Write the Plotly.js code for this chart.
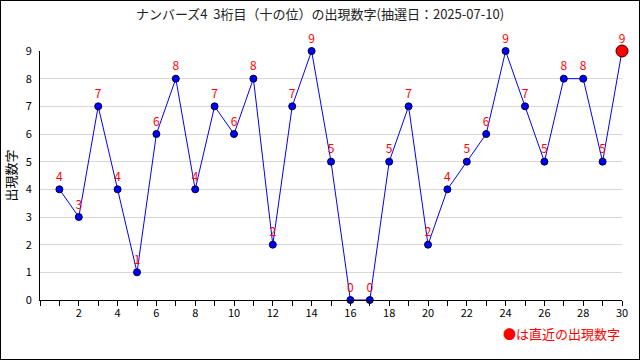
<!DOCTYPE html>
<html><head><meta charset="utf-8">
<script src="https://cdn.plot.ly/plotly-3.0.1.min.js"></script>
<style>html,body{margin:0;padding:0;background:#fff}#c{width:640px;height:360px;box-sizing:border-box;border:1px solid #000}</style>
</head><body><div id="c"></div>
<script>
const draws = [1,2,3,4,5,6,7,8,9,10,11,12,13,14,15,16,17,18,19,20,21,22,23,24,25,26,27,28,29,30];
const digits = [4,3,7,4,1,6,8,4,7,6,8,2,7,9,5,0,0,5,7,2,4,5,6,9,7,5,8,8,5,9];
const xTickVals = [2,4,6,8,10,12,14,16,18,20,22,24,26,28,30];
const titleText = 'ナンバーズ4\u00a0\u00a03桁目（十の位）の出現数字(抽選日：2025-07-10)';
const yTitle = '出現数字';
const noteText = '●は直近の出現数字';
const jp = '"Noto Sans CJK JP", "DejaVu Sans", sans-serif';
const n = draws.length;
const traces = [
  {x: draws, y: digits, mode: 'lines+markers+text', text: digits.map(String), textposition: 'top center',
   textfont: {color: '#ff0000', size: 12, family: jp},
   line: {color: '#0000ff', width: 1},
   marker: {color: '#0000ff', size: 7, line: {color: '#000033', width: 1}},
   cliponaxis: false, hoverinfo: 'none', showlegend: false},
  {x: [draws[n-1]], y: [digits[n-1]], mode: 'markers',
   marker: {color: '#ff0000', size: 12, line: {color: '#330000', width: 1}},
   cliponaxis: false, hoverinfo: 'none', showlegend: false}
];
const layout = {
  width: 638, height: 358,
  margin: {l: 39, r: 17, t: 50, b: 59},
  paper_bgcolor: '#fff', plot_bgcolor: '#fff',
  font: {family: jp, color: '#000', size: 12},
  title: {text: titleText, font: {size: 13, color: '#222', family: jp}, x: 0.5, xanchor: 'center', y: 0.975, yanchor: 'top'},
  xaxis: {range: [0, 30], tickmode: 'array', tickvals: xTickVals, ticks: 'outside', ticklen: 5, tickcolor: '#000',
    showgrid: false, zeroline: false, showline: true, linecolor: '#000', linewidth: 1,
    minor: {dtick: 1, tick0: 0, ticks: 'outside', ticklen: 5, tickcolor: '#000', showgrid: false},
    tickfont: {size: 11, family: jp}, ticklabelstandoff: -2},
  yaxis: {range: [0, 9], tickmode: 'linear', tick0: 0, dtick: 1, ticks: '', showgrid: true, gridcolor: '#d8d8d8',
    zeroline: false, showline: true, linecolor: '#000', linewidth: 1, tickfont: {size: 11, family: jp},
    ticklabelstandoff: 5,
    title: {text: yTitle, font: {size: 13, family: jp, color: '#000'}, standoff: 10}},
  annotations: [{xref: 'paper', yref: 'paper', x: 1, y: -0.133, xanchor: 'right', yanchor: 'middle', showarrow: false,
    text: noteText, font: {size: 13, color: '#ff0000', family: jp}}]
};
Plotly.newPlot('c', traces, layout, {staticPlot: true, displayModeBar: false});
</script></body></html>
